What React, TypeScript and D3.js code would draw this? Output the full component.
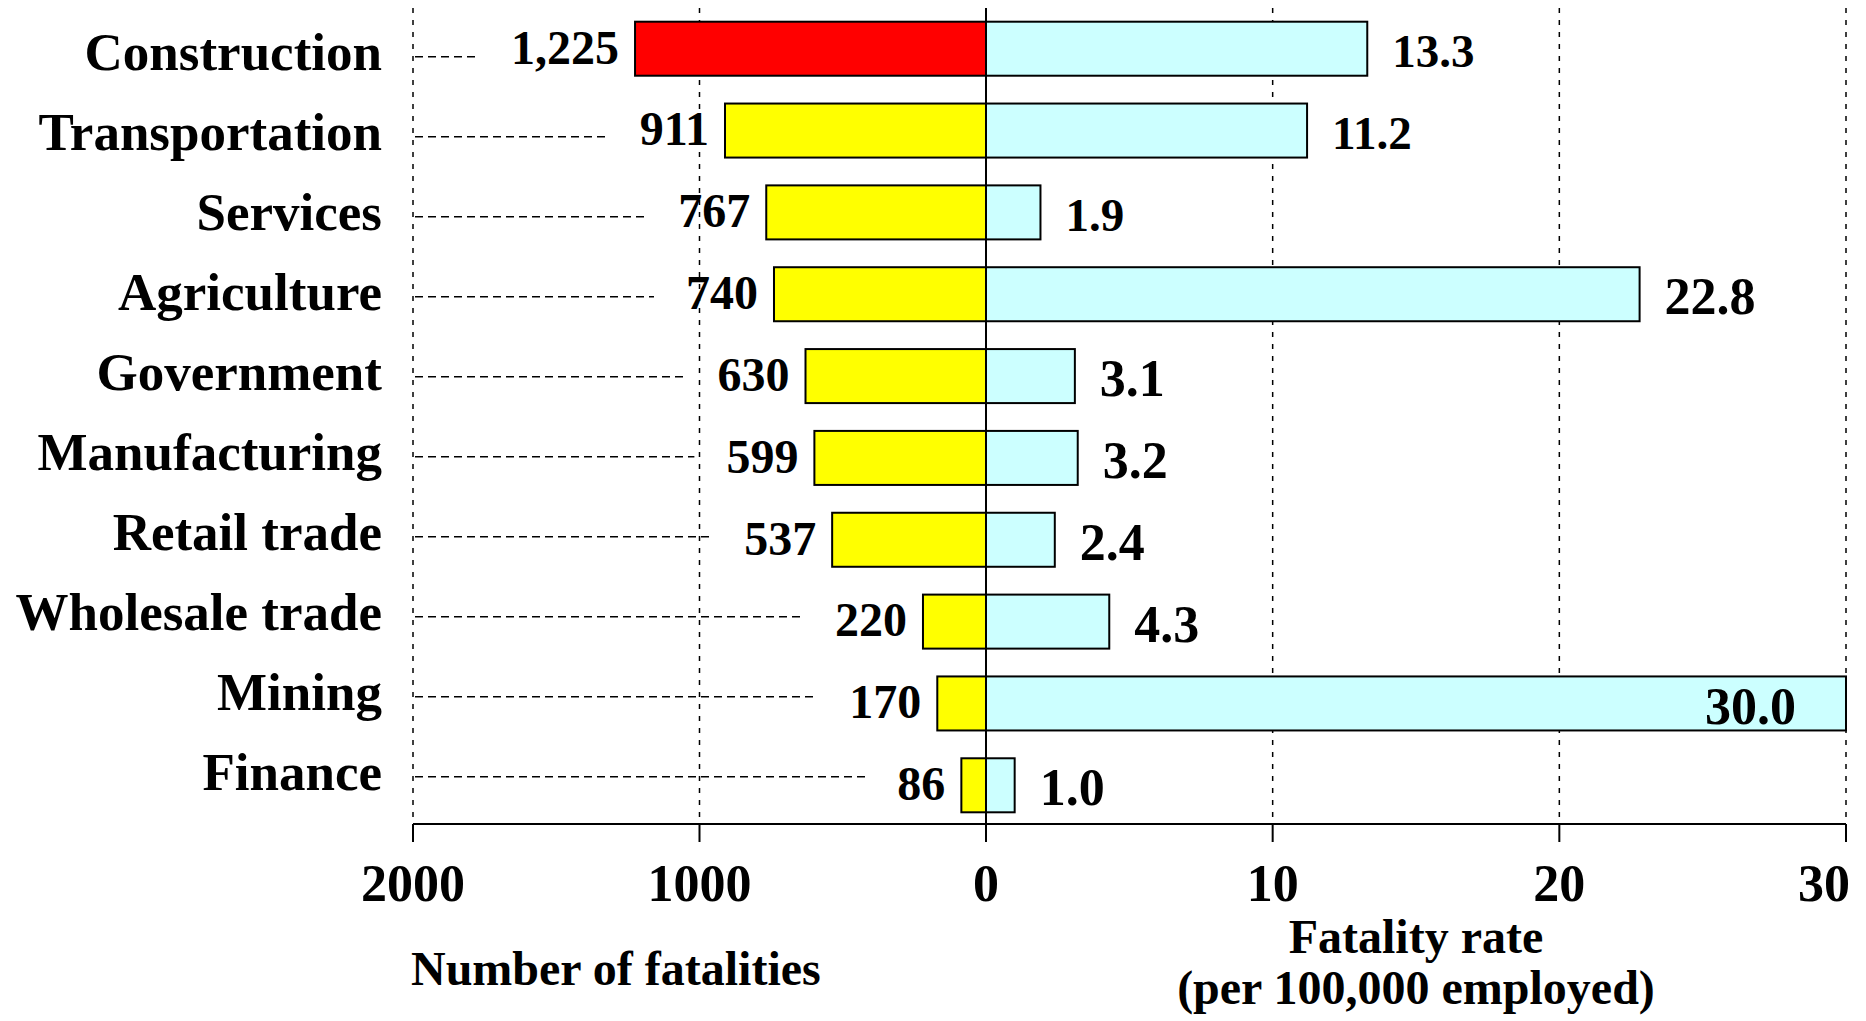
import React, { useEffect, useRef } from 'react';
import * as d3 from 'd3';

// Fatal occupational injuries by industry
const industries = [
  'Construction',
  'Transportation',
  'Services',
  'Agriculture',
  'Government',
  'Manufacturing',
  'Retail trade',
  'Wholesale trade',
  'Mining',
  'Finance',
];
const fatalities = [1225, 911, 767, 740, 630, 599, 537, 220, 170, 86];
const fatalityRates = [13.3, 11.2, 1.9, 22.8, 3.1, 3.2, 2.4, 4.3, 30.0, 1.0];
const countTicks = [2000, 1000, 0];
const rateTicks = [0, 10, 20, 30];

const WIDTH = 1866;
const HEIGHT = 1021;
const FONT = '"Liberation Serif", "Times New Roman", serif';

// rate labels that were typeset a little smaller in the original
const smallRateLabels = new Set(['Construction', 'Transportation', 'Services']);

const App: React.FC = () => {
  const svgRef = useRef<SVGSVGElement>(null);

  useEffect(() => {
    if (!svgRef.current) return;
    const svg = d3.select(svgRef.current);
    svg.selectAll('*').remove();

    const zeroX = 986;
    const top = 8;
    const axisY = 824;

    const xCount = d3.scaleLinear().domain([0, 2000]).range([zeroX, 413]);
    const xRate = d3.scaleLinear().domain([0, 30]).range([zeroX, 1846]);

    const yBar = d3.scaleBand<string>()
      .domain(industries)
      .range([21.7, 812.3])
      .paddingInner(0.34)
      .paddingOuter(0);
    // category labels and leader lines sit on a slightly tighter grid
    const yRow = d3.scalePoint<string>().domain(industries).range([56.7, 776.7]);

    const g = svg.append('g').attr('font-family', FONT).attr('font-weight', 'bold');

    // dashed gridlines
    const grid = g.append('g')
      .attr('stroke', '#000')
      .attr('stroke-width', 1.5)
      .attr('stroke-dasharray', '5,7');
    countTicks.filter(t => t !== 0).forEach(t => {
      grid.append('line').attr('x1', xCount(t)).attr('x2', xCount(t)).attr('y1', top).attr('y2', axisY);
    });
    rateTicks.filter(t => t !== 0).forEach(t => {
      grid.append('line').attr('x1', xRate(t)).attr('x2', xRate(t)).attr('y1', top).attr('y2', axisY);
    });

    // left bars: number of fatalities
    g.append('g')
      .selectAll('rect')
      .data(industries)
      .enter()
      .append('rect')
      .attr('x', (_d, i) => xCount(fatalities[i]))
      .attr('y', d => yBar(d)!)
      .attr('width', (_d, i) => zeroX - xCount(fatalities[i]))
      .attr('height', yBar.bandwidth())
      .attr('fill', (_d, i) => (i === 0 ? '#ff0000' : '#ffff00'))
      .attr('stroke', '#000')
      .attr('stroke-width', 2);

    // right bars: fatality rate
    g.append('g')
      .selectAll('rect')
      .data(industries)
      .enter()
      .append('rect')
      .attr('x', zeroX)
      .attr('y', d => yBar(d)!)
      .attr('width', (_d, i) => xRate(fatalityRates[i]) - zeroX)
      .attr('height', yBar.bandwidth())
      .attr('fill', '#ccffff')
      .attr('stroke', '#000')
      .attr('stroke-width', 2);

    // count labels
    const countLabels = g.append('g')
      .selectAll('text')
      .data(industries)
      .enter()
      .append('text')
      .attr('x', (_d, i) => xCount(fatalities[i]) - 16)
      .attr('y', d => yBar(d)! + yBar.bandwidth() / 2 - 2)
      .attr('dy', '0.35em')
      .attr('text-anchor', 'end')
      .attr('font-size', 48)
      .text((_d, i) => d3.format(',')(fatalities[i]));

    // leader lines from the 2000 gridline to each count label
    const leaders = g.append('g')
      .attr('stroke', '#000')
      .attr('stroke-width', 1.5)
      .attr('stroke-dasharray', '8,5');
    countLabels.each(function (d) {
      const box = (this as SVGTextElement).getBBox();
      const y = yRow(d)!;
      leaders.append('line')
        .attr('x1', xCount(2000) + 2)
        .attr('x2', box.x - 32)
        .attr('y1', y)
        .attr('y2', y);
    });

    // rate labels
    g.append('g')
      .selectAll('text')
      .data(industries)
      .enter()
      .append('text')
      .attr('x', (_d, i) => {
        const r = fatalityRates[i];
        return r >= 30 ? xRate(r) - 50 : xRate(r) + 25;
      })
      .attr('y', d => yBar(d)! + yBar.bandwidth() / 2 + 2)
      .attr('dy', '0.35em')
      .attr('text-anchor', (_d, i) => (fatalityRates[i] >= 30 ? 'end' : 'start'))
      .attr('font-size', d => (smallRateLabels.has(d) ? 47 : 52))
      .text((_d, i) => fatalityRates[i].toFixed(1));

    // category labels
    g.append('g')
      .selectAll('text')
      .data(industries)
      .enter()
      .append('text')
      .attr('x', 382)
      .attr('y', d => yRow(d)! + 13)
      .attr('text-anchor', 'end')
      .attr('font-size', 53)
      .text(d => d);

    // zero line
    g.append('line')
      .attr('x1', zeroX).attr('x2', zeroX)
      .attr('y1', top).attr('y2', axisY + 18)
      .attr('stroke', '#000').attr('stroke-width', 2);

    // bottom axis
    const axis = g.append('g').attr('stroke', '#000').attr('stroke-width', 2);
    axis.append('line')
      .attr('x1', xCount(2000)).attr('x2', xRate(30))
      .attr('y1', axisY).attr('y2', axisY);
    const tickXs = [
      ...countTicks.map(t => ({ x: xCount(t), label: String(t) })),
      ...rateTicks.filter(t => t !== 0).map(t => ({ x: xRate(t), label: String(t) })),
    ];
    tickXs.forEach(t => {
      axis.append('line').attr('x1', t.x).attr('x2', t.x).attr('y1', axisY).attr('y2', axisY + 18);
    });
    g.append('g')
      .selectAll('text')
      .data(tickXs)
      .enter()
      .append('text')
      .attr('x', d => (d.x > WIDTH - 30 ? WIDTH - 16 : d.x))
      .attr('y', 901)
      .attr('text-anchor', d => (d.x > WIDTH - 30 ? 'end' : 'middle'))
      .attr('font-size', 52)
      .text(d => d.label);

    // axis titles
    g.append('text')
      .attr('x', 411)
      .attr('y', 985)
      .attr('font-size', 48)
      .text('Number of fatalities');
    g.append('text')
      .attr('x', 1416)
      .attr('y', 953)
      .attr('text-anchor', 'middle')
      .attr('font-size', 48)
      .text('Fatality rate');
    g.append('text')
      .attr('x', 1416)
      .attr('y', 1004)
      .attr('text-anchor', 'middle')
      .attr('font-size', 48)
      .text('(per 100,000 employed)');
  }, []);

  return (
    <svg
      ref={svgRef}
      width={WIDTH}
      height={HEIGHT}
      style={{ position: 'absolute', left: 0, top: 0, background: '#fff' }}
    />
  );
};

export default App;
